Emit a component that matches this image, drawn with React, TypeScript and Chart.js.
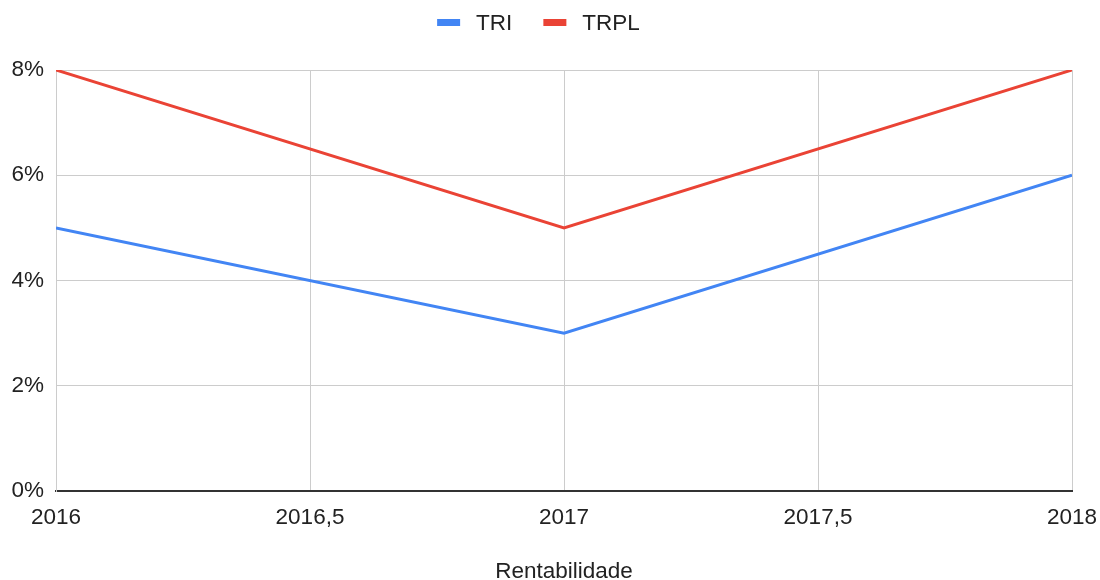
import React, { useEffect, useRef } from "react";
import { Chart, registerables } from "chart.js";

Chart.register(...registerables);

const years = [2016, 2017, 2018];
const triValues = [5, 3, 6];
const trplValues = [8, 5, 8];
const seriesLabels = ["TRI", "TRPL"];
const seriesColors = ["#4285F4", "#EA4335"];
const xAxisTitle = "Rentabilidade";

const FONT = "'Liberation Sans', Arial, sans-serif";
const FS = 22.5;

const legendPlugin = {
  id: "customLegend",
  afterDraw(chart: any) {
    const ctx = chart.ctx;
    ctx.save();
    ctx.font = `${FS}px ${FONT}`;
    ctx.textBaseline = "middle";
    ctx.textAlign = "left";
    const boxW = 23, boxH = 7, gap = 16, itemGap = 31;
    const items = chart.data.datasets.map((d: any) => ({ label: d.label, color: d.borderColor, w: ctx.measureText(d.label).width }));
    const total = items.reduce((s: number, it: any) => s + boxW + gap + it.w, 0) + itemGap * (items.length - 1);
    let x = 538.5 - total / 2;
    const cy = 22.5;
    items.forEach((it: any) => {
      ctx.fillStyle = it.color;
      ctx.fillRect(x, cy - boxH / 2, boxW, boxH);
      x += boxW + gap;
      ctx.fillStyle = "#222";
      ctx.fillText(it.label, x, cy + 1);
      x += it.w + itemGap;
    });
    ctx.restore();
  },
};

export default function App() {
  const ref = useRef<HTMLCanvasElement | null>(null);
  useEffect(() => {
    document.body.style.margin = "0";
    const mk = (vals: number[]) => years.map((y, i) => ({ x: y, y: vals[i] }));
    const chart = new Chart(ref.current!, {
      type: "line",
      data: {
        datasets: [
          { label: seriesLabels[0], data: mk(triValues), borderColor: seriesColors[0], backgroundColor: seriesColors[0], borderWidth: 3, pointRadius: 0, tension: 0 },
          { label: seriesLabels[1], data: mk(trplValues), borderColor: seriesColors[1], backgroundColor: seriesColors[1], borderWidth: 3, pointRadius: 0, tension: 0 },
        ],
      },
      options: {
        animation: false,
        responsive: false,
        maintainAspectRatio: false,
        layout: { padding: { top: 70, right: 28, left: 0, bottom: 0 } },
        plugins: { legend: { display: false }, tooltip: { enabled: false } },
        scales: {
          x: {
            type: "linear",
            min: 2016,
            max: 2018,
            ticks: {
              stepSize: 0.5,
              color: "#222",
              font: { family: FONT, size: FS },
              padding: 13,
              maxRotation: 0,
              callback: (v: any) => String(v).replace(".", ","),
            },
            grid: { color: "#cccccc", lineWidth: 1, drawTicks: false },
            border: { color: "#333333", width: 2 },
            title: { display: true, text: xAxisTitle, color: "#222", font: { family: FONT, size: FS }, padding: { top: 30, bottom: -5 } },
            afterFit: (s: any) => { s.height = 89; s.paddingLeft = 0; s.paddingRight = 0; },
          },
          y: {
            min: 0,
            max: 8,
            ticks: {
              stepSize: 2,
              color: "#222",
              font: { family: FONT, size: FS },
              padding: 12,
              callback: (v: any) => v + "%",
            },
            grid: { color: "#cccccc", lineWidth: 1, drawTicks: false },
            border: { color: "#cccccc", width: 1 },
            afterFit: (s: any) => { s.width = 56; s.paddingTop = 0; s.paddingBottom = 0; },
          },
        },
      },
      plugins: [legendPlugin],
    });
    return () => chart.destroy();
  }, []);
  return (
    <div style={{ position: "absolute", left: 0, top: 0, width: 1100, height: 580, background: "#fff" }}>
      <canvas ref={ref} width={1100} height={580} style={{ width: 1100, height: 580 }} />
    </div>
  );
}
